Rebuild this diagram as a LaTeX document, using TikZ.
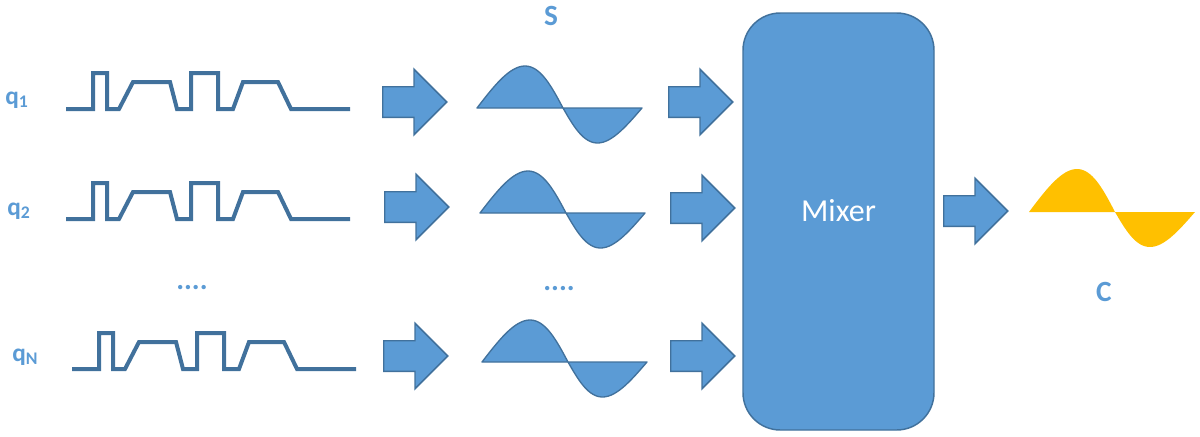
\documentclass[tikz,border=0pt]{standalone}
\usepackage{fontspec}
\setmainfont{Carlito}
\usetikzlibrary{shapes.arrows,positioning}
\definecolor{sigblue}{HTML}{5B9BD5}
\definecolor{edgeblue}{HTML}{41719C}
\definecolor{outgold}{HTML}{FFC000}

\begin{document}
\begin{tikzpicture}[x=0.75pt,y=-0.75pt,
  blockarr/.style={single arrow,draw=edgeblue,fill=sigblue,line width=1.1pt,
              minimum height=48pt,inner xsep=0pt,inner ysep=10.9pt,
              single arrow head extend=13.1pt,anchor=tail},
  pulse/.style={draw=edgeblue,line width=3pt},
  wave/.style={draw=edgeblue,fill=sigblue,line width=1pt,line join=round},
  lab/.style={text=sigblue,font=\fontsize{22}{24}\selectfont\bfseries,inner sep=0pt},
  qlab/.style={lab,font=\fontsize{19}{21}\selectfont\bfseries,anchor=base west},
  mixbox/.style={draw=edgeblue,fill=sigblue,line width=1.1pt,rounded corners=28pt,
              minimum width=143.25pt,minimum height=312.75pt,inner sep=0pt},
  mixtext/.style={text=white,font=\fontsize{24}{26}\selectfont,inner sep=0pt}]
\useasboundingbox (0,0) rectangle (1200,436);
\foreach \px/\py in {66/109, 66/219, 72/369}
  {\draw[pulse] (\px,\py) -- ++(27,0) -- ++(0,-36) -- ++(14,0) -- ++(0,36) -- ++(12,0)
     -- ++(14,-27) -- ++(37,0) -- ++(7,27) -- ++(14,0) -- ++(0,-36) -- ++(27,0)
     -- ++(0,36) -- ++(15,0) -- ++(10,-27) -- ++(35,0) -- ++(13,27) -- ++(59,0);}
\node[qlab] (q1) at (5,104) {q\textsubscript{1}};
\node[qlab] (q2) at (7,215) {q\textsubscript{2}};
\node[qlab] (qN) at (12,361) {q\textsubscript{N}};
\node[lab] (qdots) at (192,288) {....};
\foreach \ax/\ay/\nm in {382/102/1, 384/207/2, 383/356/N}
  {\node[blockarr] (inA\nm) at (\ax,\ay) {};}
\foreach \sx/\sy in {477/108, 480/213, 482/362}
  {\draw[wave] plot[domain=0:180,samples=36] ({\sx+\x*86/180+5*sin(\x)},{\sy-42*sin(\x)})
     -- plot[domain=0:180,samples=36] ({\sx+86+\x*79/180-5*sin(\x)},{\sy+35*sin(\x)}) -- cycle;}
\node[lab] (slab) at (551,16) {S};
\node[lab] (sdots) at (559,289) {....};
\foreach \ax/\ay/\nm in {668/102/1, 670/208/2, 670/356/N}
  {\node[blockarr] (inB\nm) at (\ax,\ay) {};}
\node[mixbox] (mix) at (838.5,221.5) {};
\node[mixtext] (mixlab) at (838.5,211) {Mixer};
\node[blockarr] (outarr) at (943,211) {};
\fill[outgold] plot[domain=0:180,samples=36] ({1029+\x*86/180+5*sin(\x)},{212-43*sin(\x)})
  -- plot[domain=0:180,samples=36] ({1115+\x*80/180-5*sin(\x)},{212+35*sin(\x)}) -- cycle;
\node[lab] (clab) at (1104,292) {C};
\end{tikzpicture}
\end{document}
